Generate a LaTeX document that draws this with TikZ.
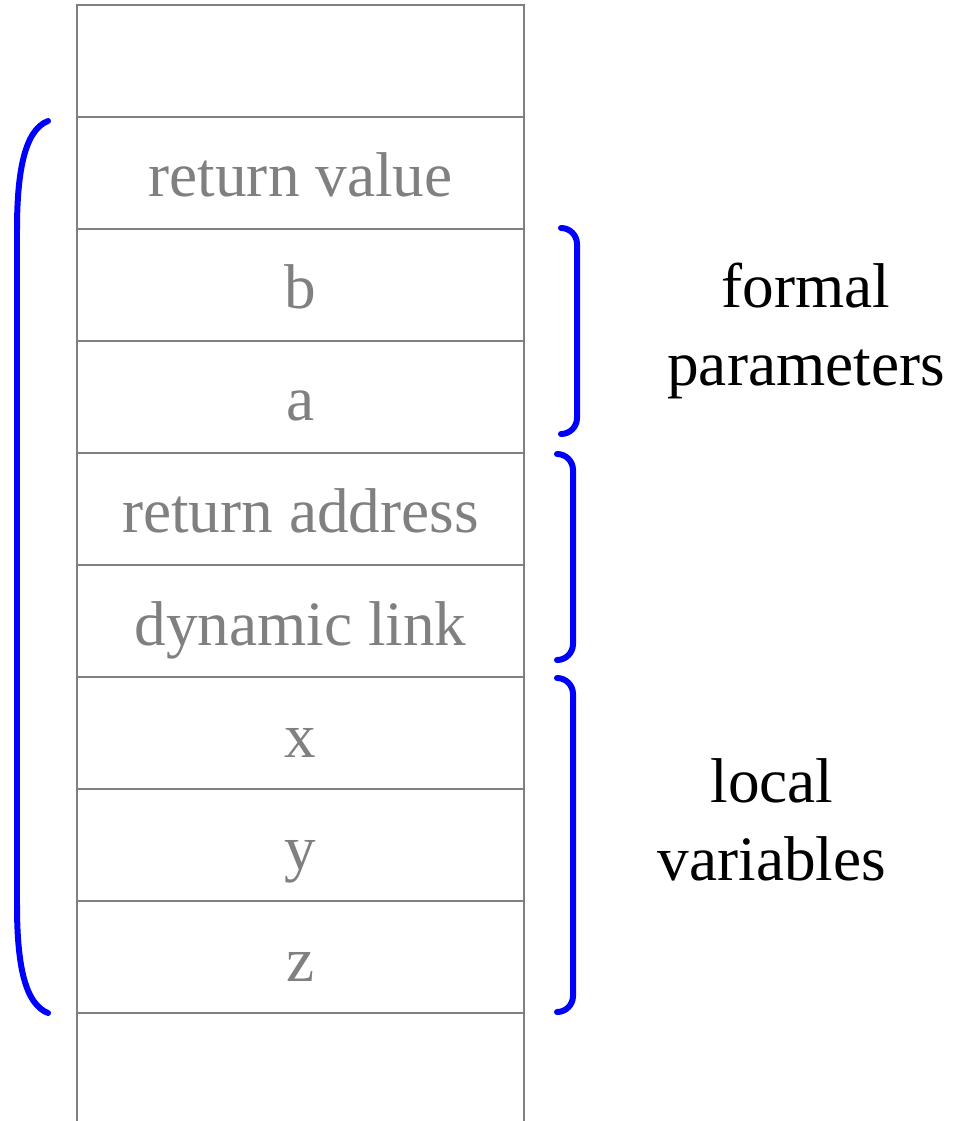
\documentclass[tikz,border=0pt]{standalone}
\usepackage{fontspec}
\setmainfont{Liberation Serif}
\usetikzlibrary{positioning}
\tikzset{
    cell/.style={rectangle, draw=gray, line width=0.04cm, minimum width=8.94cm, minimum height=2.24cm,
        inner sep=0pt, outer sep=0pt, text=gray, text height=0.96cm, text depth=0pt, font=\fontsize{36}{44.2}\selectfont},
    wall/.style={draw=gray, line width=0.04cm},
    bracket/.style={draw=blue, line width=0.12cm, line cap=round},
    grouptext/.style={align=center, text=black, font=\fontsize{36}{44.2}\selectfont}
}

\begin{document}
\begin{tikzpicture}[x=0.02cm, y=-0.02cm]
  \useasboundingbox (0,0) rectangle (963,1121);
  \node[cell] (c0) at (300.5, 61) {};
  \node[cell] (c1) at (300.5, 173) {return value};
  \node[cell] (c2) at (300.5, 285) {b};
  \node[cell] (c3) at (300.5, 397) {a};
  \node[cell] (c4) at (300.5, 509) {return address};
  \node[cell] (c5) at (300.5, 621) {dynamic link};
  \node[cell] (c6) at (300.5, 733) {x};
  \node[cell] (c7) at (300.5, 845) {y};
  \node[cell] (c8) at (300.5, 957) {z};
  \draw[wall] (c8.south west) -- ++(0,120);
  \draw[wall] (c8.south east) -- ++(0,120);
  \node[grouptext] (formal) at (806, 331) {formal\\parameters};
  \node[grouptext] (local) at (772, 820) {local\\variables};
  \draw[bracket] (48,121) .. controls (25,130) and (17,170) .. (17,230) -- (17,905)
    .. controls (17,965) and (25,1004) .. (48,1013);
  \draw[bracket, rounded corners=0.32cm] (561,228) -- (577,228) -- (577,434) -- (561,434);
  \draw[bracket, rounded corners=0.32cm] (557,454) -- (573,454) -- (573,660) -- (557,660);
  \draw[bracket, rounded corners=0.32cm] (557,678) -- (573,678) -- (573,1012) -- (557,1012);
\end{tikzpicture}
\end{document}
